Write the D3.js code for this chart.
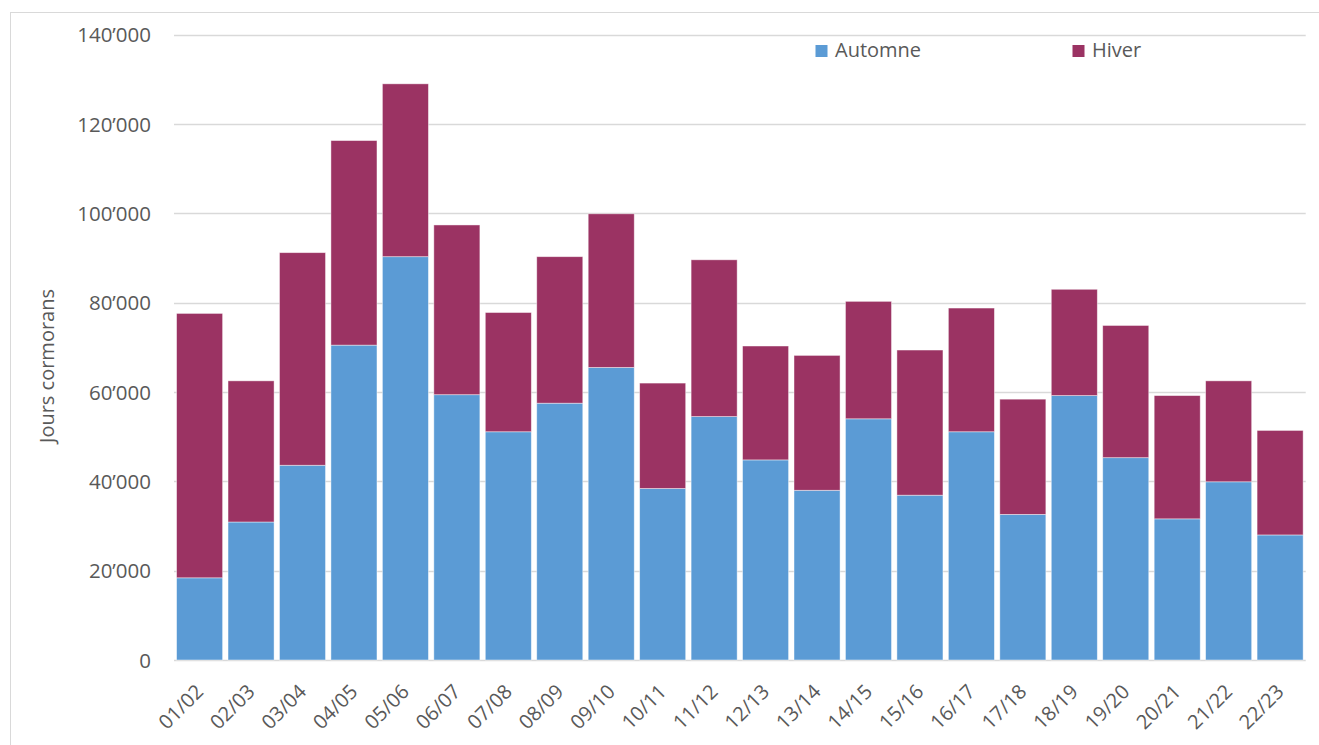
<!DOCTYPE html>
<html>
<head>
<meta charset="utf-8">
<script src="https://cdn.jsdelivr.net/npm/d3@7"></script>
<style>
  html, body { margin: 0; padding: 0; background: #fff; }
  svg { display: block; }
  text { font-family: "Open Sans", "Noto Sans", sans-serif; fill: #595959; }
</style>
</head>
<body>
<svg id="chart" width="1319" height="745"></svg>
<script>
const categories = ["01/02","02/03","03/04","04/05","05/06","06/07","07/08","08/09","09/10","10/11","11/12","12/13","13/14","14/15","15/16","16/17","17/18","18/19","19/20","20/21","21/22","22/23"];
const automne = [18400,30900,43600,70500,90300,59400,51100,57500,65500,38400,54500,44800,38000,54000,36900,51100,32600,59200,45300,31600,39900,28000];
const hiver   = [59200,31600,47600,45800,38700,38000,26700,32800,34400,23600,35100,25500,30200,26300,32500,27700,25800,23800,29600,27600,22600,23400];
const seriesNames = ["Automne","Hiver"];
const seriesColors = ["#5B9BD5","#9B3363"];
const yTicks = [0,20000,40000,60000,80000,100000,120000,140000];

const svg = d3.select("#chart");
const margin = {left: 174, right: 1305.7, top: 34.7, bottom: 660};

// outer frame
svg.append("rect").attr("x",10.5).attr("y",12.5).attr("width",1330).attr("height",760)
  .attr("fill","none").attr("stroke","#d9d9d9").attr("stroke-width",1);

const x = d3.scaleBand().domain(categories).range([margin.left, margin.right]).paddingInner(0.105).paddingOuter(0.05);
const y = d3.scaleLinear().domain([0,140000]).range([margin.bottom, margin.top]);

const fmt = v => v === 0 ? "0" : d3.format(",")(v).replace(/,/g, "\u2019");

// gridlines
const grid = svg.append("g");
grid.selectAll("line").data(yTicks).join("line")
  .attr("x1", margin.left).attr("x2", margin.right)
  .attr("y1", d => Math.round(y(d)) + 0.5).attr("y2", d => Math.round(y(d)) + 0.5)
  .attr("stroke", "#d9d9d9").attr("stroke-width", 1.3);

// y axis labels
const yAxis = d3.axisLeft(y).tickValues(yTicks).tickFormat(fmt).tickSize(0).tickPadding(0);
const gy = svg.append("g").attr("transform", `translate(151,0)`).call(yAxis);
gy.select(".domain").remove();
gy.selectAll("text").attr("font-size", 20.5).attr("fill", "#595959")
  .style("font-family", '"Open Sans", "Noto Sans", sans-serif').attr("dy", "0.35em");

// stacked data
const data = categories.map((c,i) => ({cat: c, Automne: automne[i], Hiver: hiver[i]}));
const stack = d3.stack().keys(seriesNames)(data);

svg.append("g").selectAll("g").data(stack).join("g")
  .attr("fill", (d,i) => seriesColors[i])
  .selectAll("rect").data(d => d).join("rect")
  .attr("x", d => x(d.data.cat))
  .attr("width", x.bandwidth())
  .attr("y", d => y(d[1]))
  .attr("height", d => y(d[0]) - y(d[1]))
  .attr("stroke", "rgba(255,255,255,0.55)").attr("stroke-width", 0.8);

// x axis labels
const xAxis = d3.axisBottom(x).tickSize(0).tickPadding(0);
const gx = svg.append("g").attr("transform", `translate(0,${margin.bottom})`).call(xAxis);
gx.select(".domain").remove();
gx.selectAll("text")
  .attr("font-size", 20).attr("fill", "#595959")
  .style("font-family", '"Open Sans", "Noto Sans", sans-serif')
  .attr("text-anchor", "end")
  .attr("dy", null).attr("y", 0)
  .attr("transform", "translate(5,33) rotate(-45)");

// y axis title
svg.append("text")
  .attr("transform", "translate(54,366) rotate(-90)")
  .attr("text-anchor", "middle")
  .attr("font-size", 20)
  .text("Jours cormorans");

// legend
const legendX = [815.5, 1072.5];
const lg = svg.append("g").selectAll("g").data(seriesNames).join("g")
  .attr("transform", (d,i) => `translate(${legendX[i]},45)`);
lg.append("rect").attr("width", 12).attr("height", 12).attr("fill", (d,i) => seriesColors[i]);
lg.append("text").attr("x", 19.5).attr("y", 12.3).attr("font-size", 20).text(d => d);
</script>
</body>
</html>
